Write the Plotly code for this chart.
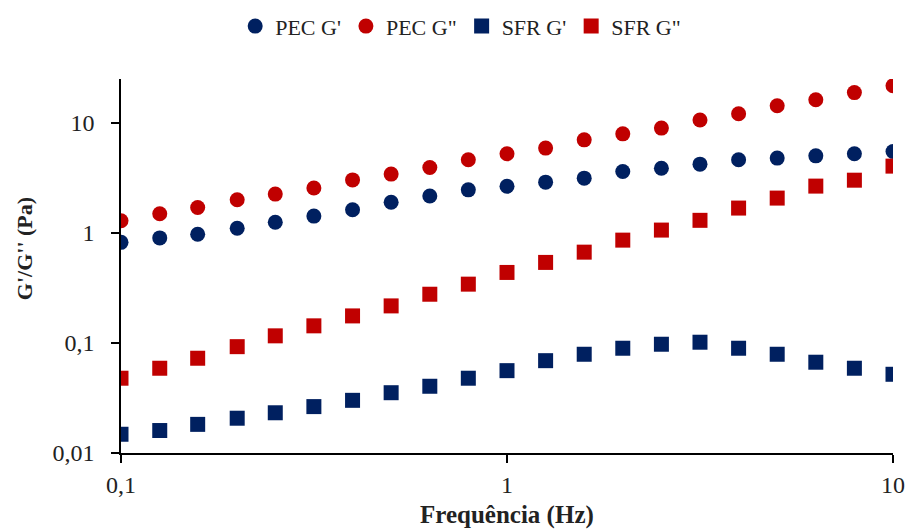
import numpy as np
import plotly.graph_objects as go

# Frequency sweep (Hz), 10 points per decade
freq = [0.1, 0.126, 0.158, 0.2, 0.251, 0.316, 0.398, 0.501, 0.631, 0.794,
        1.0, 1.259, 1.585, 1.995, 2.512, 3.162, 3.981, 5.012, 6.31, 7.943, 10.0]

pec_g1 = [0.82, 0.90, 0.97, 1.10, 1.25, 1.42, 1.62, 1.90, 2.16, 2.46,
          2.65, 2.89, 3.14, 3.61, 3.87, 4.21, 4.61, 4.78, 5.01, 5.23, 5.48]
pec_g2 = [1.29, 1.49, 1.70, 2.00, 2.25, 2.56, 3.03, 3.42, 3.92, 4.61,
          5.23, 5.89, 7.00, 7.94, 8.95, 10.6, 12.1, 14.3, 16.2, 18.8, 21.7]
sfr_g1 = [0.0148, 0.0160, 0.0182, 0.0207, 0.0232, 0.0264, 0.0301, 0.0353, 0.0404, 0.0478,
          0.0560, 0.0690, 0.0789, 0.0895, 0.0973, 0.1015, 0.0895, 0.0789, 0.0668, 0.0589, 0.0519]
sfr_g2 = [0.0478, 0.0589, 0.0726, 0.0925, 0.116, 0.143, 0.176, 0.217, 0.277, 0.342,
          0.437, 0.539, 0.668, 0.859, 1.06, 1.30, 1.68, 2.07, 2.66, 3.01, 4.04]

x_ticks = [0.1, 1, 10]
x_labels = ["0,1", "1", "10"]
y_ticks = [0.01, 0.1, 1, 10]
y_labels = ["0,01", "0,1", "1", "10"]

BLUE = "#002060"
RED = "#C00000"
FONT = "Liberation Serif"
TEXT = "#222222"

series = [
    ("PEC G'", pec_g1, "circle", BLUE),
    ('PEC G"', pec_g2, "circle", RED),
    ("SFR G'", sfr_g1, "square", BLUE),
    ('SFR G"', sfr_g2, "square", RED),
]

fig = go.Figure()
for name, vals, sym, col in series:
    fig.add_trace(go.Scatter(
        x=freq, y=vals, mode="markers", name=name,
        marker=dict(symbol=sym, size=15, color=col, line=dict(width=0)),
    ))

axis_common = dict(
    type="log", showgrid=False, zeroline=False, automargin=False,
    showline=True, linecolor="black", linewidth=1.5,
    ticks="outside", ticklen=8, tickwidth=1.5, tickcolor="black",
    tickfont=dict(family=FONT, size=24, color=TEXT),
)

fig.update_xaxes(**axis_common, range=[-1, 1], tickvals=x_ticks, ticktext=x_labels,
                 ticklabelstandoff=1)
fig.update_yaxes(**axis_common, range=[-2, np.log10(25)], tickvals=y_ticks, ticktext=y_labels,
                 ticklabelstandoff=12)

# Axis titles
fig.add_annotation(text="<b>Frequência (Hz)</b>", xref="paper", yref="paper",
                   x=0.5, y=0, yshift=-62, xanchor="center", yanchor="middle",
                   showarrow=False, font=dict(family=FONT, size=25, color=TEXT))
fig.add_annotation(text="<b>G'/G'' (Pa)</b>", xref="paper", yref="paper",
                   x=0, xshift=-97, y=0.545, xanchor="center", yanchor="middle",
                   textangle=-90, showarrow=False,
                   font=dict(family=FONT, size=22, color=TEXT))

fig.update_layout(
    width=908, height=531,
    margin=dict(l=121, r=15, t=79, b=78),
    paper_bgcolor="white", plot_bgcolor="white",
    showlegend=True,
    legend=dict(orientation="h", x=0.44, xanchor="center", y=0.99, yanchor="top",
                yref="container", font=dict(family=FONT, size=22, color=TEXT),
                itemwidth=30, traceorder="normal", tracegroupgap=0),
)

fig.write_html("out.html")
